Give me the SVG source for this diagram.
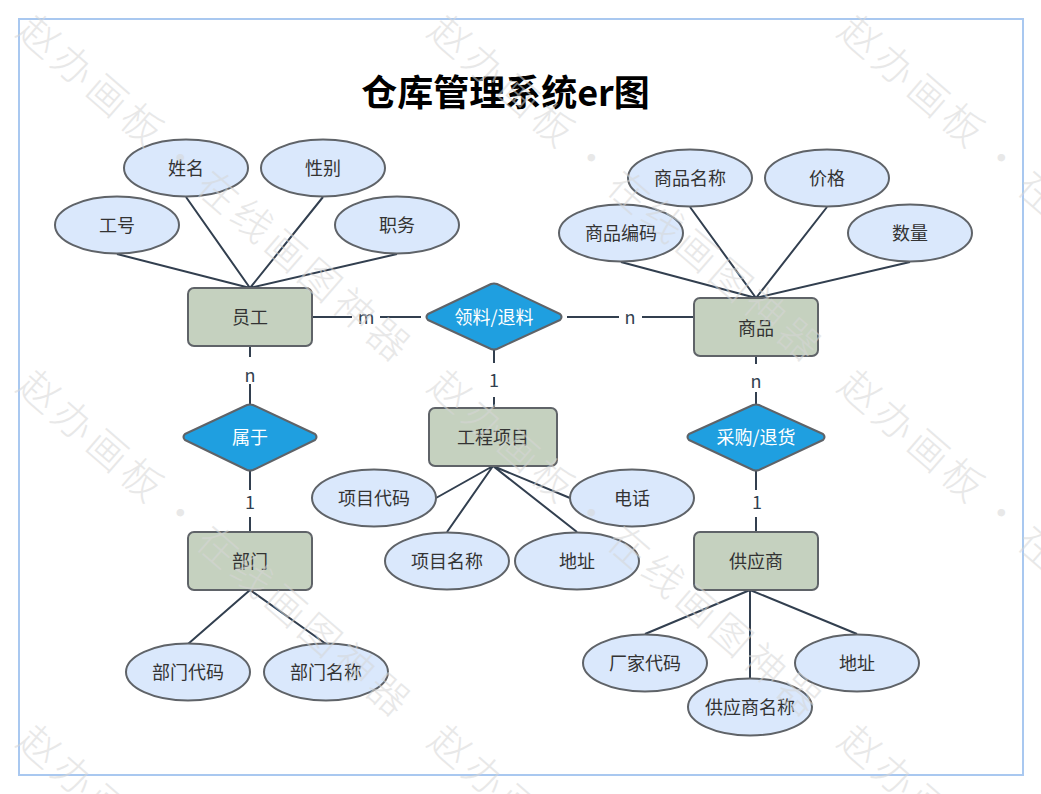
<svg xmlns="http://www.w3.org/2000/svg" width="1041" height="794" viewBox="0 0 1041 794">
<style>
text{font-family:"Noto Sans CJK SC","Liberation Sans",sans-serif}
.e{fill:#dae8fc;stroke:#5f6368;stroke-width:2}
.r{fill:#c5d1bf;stroke:#5f6368;stroke-width:2}
.d{fill:#1f9fe0;stroke:#5f6368;stroke-width:2;stroke-linejoin:round}
.t{font-size:18px;fill:#333;text-anchor:middle;dominant-baseline:central}
.w{fill:#fff}
.l{font-size:18px;fill:#323f4f;text-anchor:middle;dominant-baseline:central}
#connectors path{stroke:#323f4f;stroke-width:2;fill:none}
.wm{font-size:40px;font-weight:200;fill:#d6d6d6;opacity:.55;letter-spacing:5px;word-spacing:-8px}
</style>
<rect x="19" y="19" width="1004" height="756" fill="#fff" stroke="#a9c8f0" stroke-width="2"/>
<text x="505.500" y="90" font-size="36" font-weight="700" fill="#000" text-anchor="middle" dominant-baseline="central">仓库管理系统er图</text>
<g id="connectors">
<path d="M117 254L250 288M186 197L250 288M323 197L250 288M397 254L250 288"/>
<path d="M621 262L756 298M690 207L756 298M827 207L756 298M910 262L756 298"/>
<path d="M313 317H352M380 317H421M567 317H619M642 317H694"/>
<path d="M494 350V363M494 397V408M250 346V357M250 384V404M250 471V490M250 517V532M756 356V364M756 392V404M756 471V490M756 517V532"/>
<path d="M493 466L436 498M493 466L447 532M493 466L577 532M493 466L570 498"/>
<path d="M250 590L188 644M250 590L326 644"/>
<path d="M750 590L645 634M750 590V678M750 590L857 634"/>
<text class="l" x="366" y="316">m</text>
<text class="l" x="630" y="316">n</text>
<text class="l" x="494" y="379">1</text>
<text class="l" x="250" y="374">n</text>
<text class="l" x="250" y="501">1</text>
<text class="l" x="756" y="380">n</text>
<text class="l" x="757" y="501">1</text>
</g>
<g id="n-gonghao"><ellipse class="e" cx="117" cy="225" rx="62" ry="28.500"/><text class="t" x="117" y="224">工号</text></g>
<g id="n-xingming"><ellipse class="e" cx="186" cy="168" rx="62" ry="28.500"/><text class="t" x="186" y="167">姓名</text></g>
<g id="n-xingbie"><ellipse class="e" cx="323" cy="168" rx="62" ry="28.500"/><text class="t" x="323" y="167">性别</text></g>
<g id="n-zhiwu"><ellipse class="e" cx="397" cy="225" rx="62" ry="28.500"/><text class="t" x="397" y="224">职务</text></g>
<g id="n-yuangong"><rect class="r" x="188" y="288" width="124" height="58" rx="6"/><text class="t" x="250" y="316">员工</text></g>
<g id="n-lingliao"><path class="d" d="M428 314L491 284Q494 283 497 284L560 314Q563 317 560 320L497 349Q494 350 491 349L428 320Q425 317 428 314Z"/><text class="t w" x="494" y="316">领料/退料</text></g>
<g id="n-shangpin"><rect class="r" x="694" y="298" width="124" height="58" rx="6"/><text class="t" x="756" y="327">商品</text></g>
<g id="n-spbm"><ellipse class="e" cx="621" cy="233" rx="62" ry="28.500"/><text class="t" x="621" y="232">商品编码</text></g>
<g id="n-spmc"><ellipse class="e" cx="690" cy="178" rx="62" ry="28.500"/><text class="t" x="690" y="177">商品名称</text></g>
<g id="n-jiage"><ellipse class="e" cx="827" cy="178" rx="62" ry="28.500"/><text class="t" x="827" y="177">价格</text></g>
<g id="n-shuliang"><ellipse class="e" cx="910" cy="233" rx="62" ry="28.500"/><text class="t" x="910" y="232">数量</text></g>
<g id="n-shuyu"><path class="d" d="M185 434L247 405Q250 404 253 405L315 434Q318 437 315 440L253 470Q250 471 247 470L185 440Q182 437 185 434Z"/><text class="t w" x="250" y="436">属于</text></g>
<g id="n-bumen"><rect class="r" x="188" y="532" width="124" height="58" rx="6"/><text class="t" x="250" y="560">部门</text></g>
<g id="n-bmdm"><ellipse class="e" cx="188" cy="672" rx="62" ry="28.500"/><text class="t" x="188" y="671">部门代码</text></g>
<g id="n-bmmc"><ellipse class="e" cx="326" cy="672" rx="62" ry="28.500"/><text class="t" x="326" y="671">部门名称</text></g>
<g id="n-gcxm"><rect class="r" x="429" y="408" width="128" height="58" rx="6"/><text class="t" x="493" y="436">工程项目</text></g>
<g id="n-xmdm"><ellipse class="e" cx="374" cy="498" rx="62" ry="28.500"/><text class="t" x="374" y="497">项目代码</text></g>
<g id="n-dianhua"><ellipse class="e" cx="632" cy="498" rx="62" ry="28.500"/><text class="t" x="632" y="497">电话</text></g>
<g id="n-xmmc"><ellipse class="e" cx="447" cy="561" rx="62" ry="28.500"/><text class="t" x="447" y="560">项目名称</text></g>
<g id="n-dizhi1"><ellipse class="e" cx="577" cy="561" rx="62" ry="28.500"/><text class="t" x="577" y="560">地址</text></g>
<g id="n-caigou"><path class="d" d="M689 434L753 405Q756 404 759 405L823 434Q826 437 823 440L759 470Q756 471 753 470L689 440Q686 437 689 434Z"/><text class="t w" x="756" y="436">采购/退货</text></g>
<g id="n-gys"><rect class="r" x="694" y="532" width="124" height="58" rx="6"/><text class="t" x="756" y="560">供应商</text></g>
<g id="n-cjdm"><ellipse class="e" cx="645" cy="663" rx="62" ry="28.500"/><text class="t" x="645" y="662">厂家代码</text></g>
<g id="n-dizhi2"><ellipse class="e" cx="857" cy="663" rx="62" ry="28.500"/><text class="t" x="857" y="662">地址</text></g>
<g id="n-gysmc"><ellipse class="e" cx="750" cy="707" rx="62" ry="28.500"/><text class="t" x="750" y="706">供应商名称</text></g>
<g id="watermark">
<text class="wm" transform="translate(15 34) rotate(41)">赵办画板 · 在线画图神器</text>
<text class="wm" transform="translate(426 34) rotate(41)">赵办画板 · 在线画图神器</text>
<text class="wm" transform="translate(836 34) rotate(41)">赵办画板 · 在线画图神器</text>
<text class="wm" transform="translate(15 389) rotate(41)">赵办画板 · 在线画图神器</text>
<text class="wm" transform="translate(426 389) rotate(41)">赵办画板 · 在线画图神器</text>
<text class="wm" transform="translate(836 389) rotate(41)">赵办画板 · 在线画图神器</text>
<text class="wm" transform="translate(15 744) rotate(41)">赵办画板 · 在线画图神器</text>
<text class="wm" transform="translate(426 744) rotate(41)">赵办画板 · 在线画图神器</text>
<text class="wm" transform="translate(836 744) rotate(41)">赵办画板 · 在线画图神器</text>
</g>
</svg>
